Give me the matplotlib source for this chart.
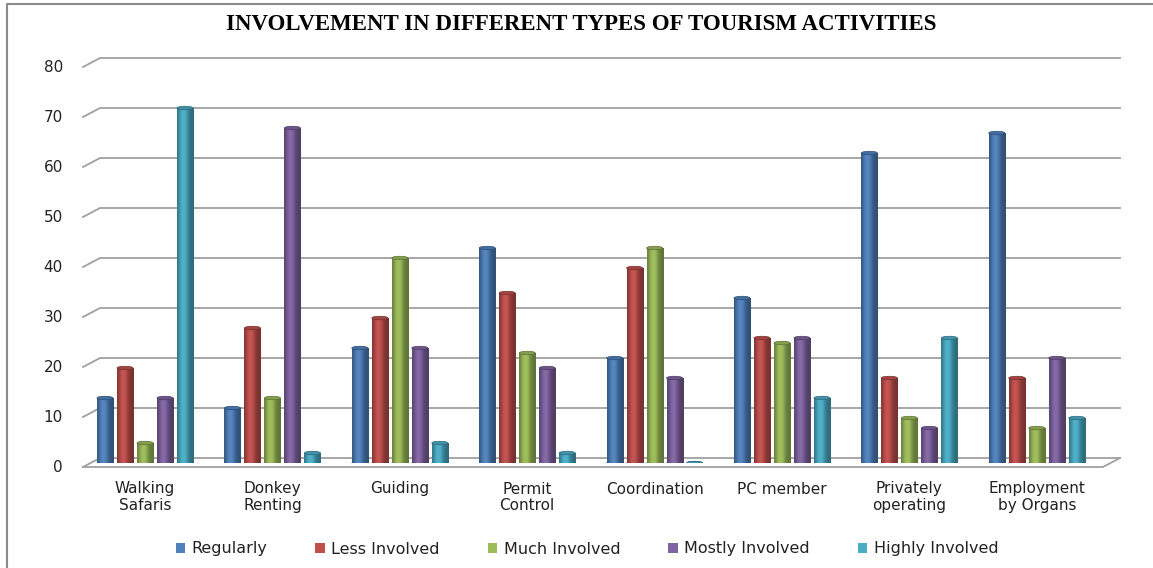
import matplotlib.pyplot as plt
import numpy as np
from matplotlib.colors import to_rgb
from matplotlib.lines import Line2D
from matplotlib.patches import Ellipse, Patch

# Chart data
categories = ['Walking\nSafaris', 'Donkey\nRenting', 'Guiding', 'Permit\nControl',
              'Coordination', 'PC member', 'Privately\noperating', 'Employment\nby Organs']
series = ['Regularly', 'Less Involved', 'Much Involved', 'Mostly Involved', 'Highly Involved']
regularly = [13, 11, 23, 43, 21, 33, 62, 66]
less_involved = [19, 27, 29, 34, 39, 25, 17, 17]
much_involved = [4, 13, 41, 22, 43, 24, 9, 7]
mostly_involved = [13, 67, 23, 19, 17, 25, 7, 21]
highly_involved = [71, 2, 4, 2, 0, 13, 25, 9]
y_ticks = [0, 10, 20, 30, 40, 50, 60, 70, 80]

values = [regularly, less_involved, much_involved, mostly_involved, highly_involved]
colors = ['#4F81BD', '#C0504D', '#9BBB59', '#8064A2', '#4BACC6']

W, H = 1153, 568
fig = plt.figure(figsize=(W / 100, H / 100), dpi=100)

# axes: front floor from x=83 to x=1103, base at y=463, 80 at y=63
ax_left, ax_right = 83, 1103
xmin, xmax = -0.487, 7.52
ax = fig.add_axes([ax_left / W, (H - 463) / H, (ax_right - ax_left) / W, 400 / H])
ax.set_xlim(xmin, xmax)
ax.set_ylim(0, 80)


def px2x(px):
    return xmin + (px - ax_left) / (ax_right - ax_left) * (xmax - xmin)


# fake 3d walls: back wall is 1 unit up, front edge 0.8 units down
back_dy, front_dy = 1.0, -0.8
grid_col = '#a0a0a0'
for g in y_ticks:
    ax.plot([px2x(83), px2x(100), px2x(1120)], [g + front_dy, g + back_dy, g + back_dy],
            color=grid_col, lw=1.3, clip_on=False, zorder=1)
    ax.text(px2x(63), g + front_dy, str(g), ha='right', va='center', fontsize=11,
            family='DejaVu Sans', color='#222222')
# floor front edge and right side
ax.plot([px2x(83), px2x(1103), px2x(1120)], [front_dy, front_dy, back_dy],
        color=grid_col, lw=1.3, clip_on=False, zorder=1)

# cylinders
n = len(series)
bw = 0.126
step = 0.157
x = np.arange(len(categories))
t = np.linspace(0, 1, 64)
shade = 0.62 + 0.45 * np.exp(-((t - 0.38) / 0.28) ** 2)

for i in range(n):
    base = np.array(to_rgb(colors[i]))
    grad = np.zeros((1, len(t), 3))
    for k, s in enumerate(shade):
        if s <= 1:
            grad[0, k] = base * s
        else:
            grad[0, k] = base + (1 - base) * (s - 1) * 0.6
    dark = base * 0.6
    xs = x + (i - (n - 1) / 2) * step
    bars = ax.bar(xs, values[i], width=bw, color=colors[i], edgecolor=dark, lw=0.5, zorder=3)
    for b in bars:
        bx, by = b.get_x(), b.get_y()
        bwid, bh = b.get_width(), b.get_height()
        if bh > 0:
            im = ax.imshow(grad, extent=[bx, bx + bwid, by, by + bh], aspect='auto',
                           interpolation='bilinear', zorder=3.5)
            im.set_clip_path(b)
        # rounded bottom
        ax.add_patch(Ellipse((bx + bwid / 2, by), bwid, 0.7, facecolor=base * 0.8,
                             edgecolor=dark, lw=0.4, zorder=2.9))
        # top cap
        ax.add_patch(Ellipse((bx + bwid / 2, by + bh), bwid, 0.7, facecolor=base * 0.85,
                             edgecolor=dark, lw=0.5, zorder=4))

ax.set_xlim(xmin, xmax)
ax.set_ylim(0, 80)
ax.axis('off')

for xi, lab in zip(x, categories):
    ax.text(xi, -3.7, lab, ha='center', va='top', fontsize=11, family='DejaVu Sans',
            color='#222222', linespacing=1.15)

fig.text(581 / W, 1 - 25 / H, 'INVOLVEMENT IN DIFFERENT TYPES OF TOURISM ACTIVITIES',
         ha='center', va='center', fontsize=16.5, fontweight='bold', family='Liberation Serif')

handles = [Patch(facecolor=c, edgecolor='none') for c in colors]
fig.legend(handles, series, ncol=5, loc='center', bbox_to_anchor=(587 / W, 1 - 549 / H),
           frameon=False, handlelength=0.6, handleheight=0.6,
           handletextpad=0.4, columnspacing=3.0, prop={'family': 'DejaVu Sans', 'size': 11.5},
           labelcolor='#222222')

# outer chart border (only top and left visible)
fig.add_artist(Line2D([7 / W, 7 / W, 1.0], [0, 1 - 4 / H, 1 - 4 / H], transform=fig.transFigure,
                      color='#8a8a8a', lw=1.5))

fig.savefig('out.png', dpi=100)
